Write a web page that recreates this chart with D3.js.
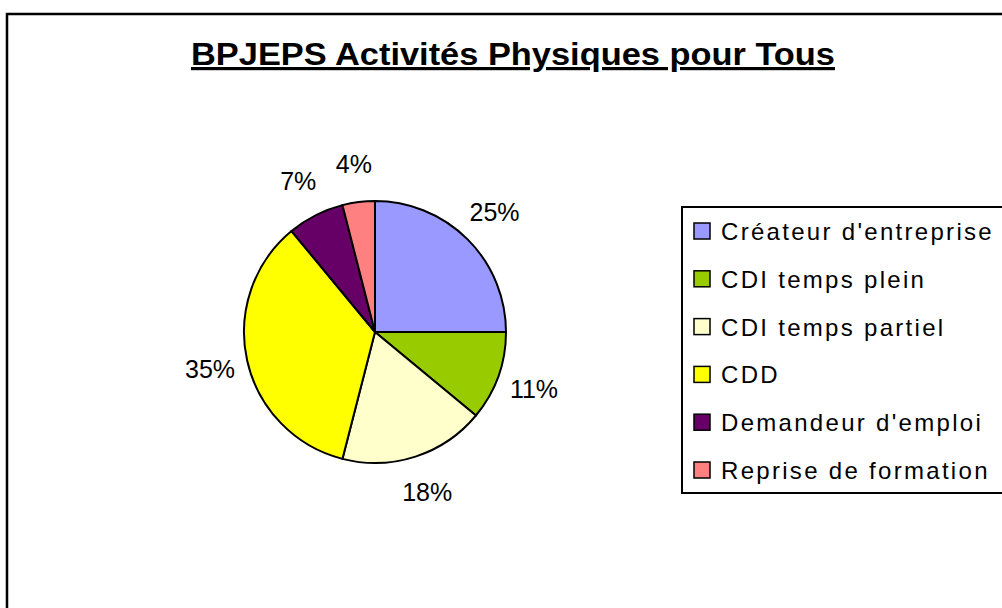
<!DOCTYPE html>
<html>
<head>
<meta charset="utf-8">
<script src="https://cdn.jsdelivr.net/npm/d3@7"></script>
<style>
  body { margin: 0; background: #fff; }
  text { font-family: "Liberation Sans", Arial, sans-serif; }
</style>
</head>
<body>
<div id="chart"></div>
<script>
// chart size
const width = 1002;
const height = 608;

// data
const categories = ["Créateur d'entreprise", "CDI temps plein", "CDI temps partiel", "CDD", "Demandeur d'emploi", "Reprise de formation"];
const values = [25, 11, 18, 35, 7, 4];
const colors = ["#9999FF", "#99CC00", "#FFFFCC", "#FFFF00", "#660066", "#FF8080"];
const title = "BPJEPS Activités Physiques pour Tous";

const cx = 375, cy = 332, radius = 131, labelRadius = 169;

const svg = d3.select("#chart").append("svg")
  .attr("width", width)
  .attr("height", height);

svg.append("rect")
  .attr("width", width).attr("height", height)
  .attr("fill", "#fff");

// outer chart area border (runs off right and bottom)
svg.append("rect")
  .attr("x", 7).attr("y", 14)
  .attr("width", width + 20).attr("height", height + 20)
  .attr("fill", "none")
  .attr("stroke", "#000")
  .attr("stroke-width", 2.5);

// title, stretched like the original
svg.append("text")
  .attr("x", 191).attr("y", 65)
  .attr("font-size", 32)
  .attr("font-weight", "bold")
  .attr("text-decoration", "underline")
  .attr("textLength", 644)
  .attr("lengthAdjust", "spacingAndGlyphs")
  .text(title);

const total = d3.sum(values);
const pie = d3.pie().sort(null).value(d => d)(values);
const arc = d3.arc().innerRadius(0).outerRadius(radius);
const labelArc = d3.arc().innerRadius(labelRadius).outerRadius(labelRadius);

const g = svg.append("g").attr("transform", `translate(${cx},${cy})`);

g.selectAll("path")
  .data(pie)
  .join("path")
    .attr("d", arc)
    .attr("fill", (d, i) => colors[i])
    .attr("stroke", "#000")
    .attr("stroke-width", 2)
    .attr("stroke-linejoin", "round");

g.selectAll("text")
  .data(pie)
  .join("text")
    .attr("transform", d => `translate(${labelArc.centroid(d)})`)
    .attr("text-anchor", "middle")
    .attr("dy", "0.35em")
    .attr("font-size", 25)
    .text(d => Math.round(d.value / total * 100) + "%");

// legend
const legend = svg.append("g");
legend.append("rect")
  .attr("x", 682).attr("y", 207)
  .attr("width", 400).attr("height", 286)
  .attr("fill", "#fff")
  .attr("stroke", "#000")
  .attr("stroke-width", 2);

const rowY = d3.scalePoint().domain(categories).range([231, 470]);

const item = legend.selectAll("g.item")
  .data(categories)
  .join("g")
    .attr("class", "item")
    .attr("transform", d => `translate(0,${rowY(d)})`);

item.append("rect")
  .attr("x", 694).attr("y", -8)
  .attr("width", 16).attr("height", 16)
  .attr("fill", (d, i) => colors[i])
  .attr("stroke", "#000")
  .attr("stroke-width", 1.5);

item.append("text")
  .attr("x", 721)
  .attr("y", 9)
  .attr("font-size", 24)
  .attr("letter-spacing", 2.3)
  .text(d => d);
</script>
</body>
</html>
